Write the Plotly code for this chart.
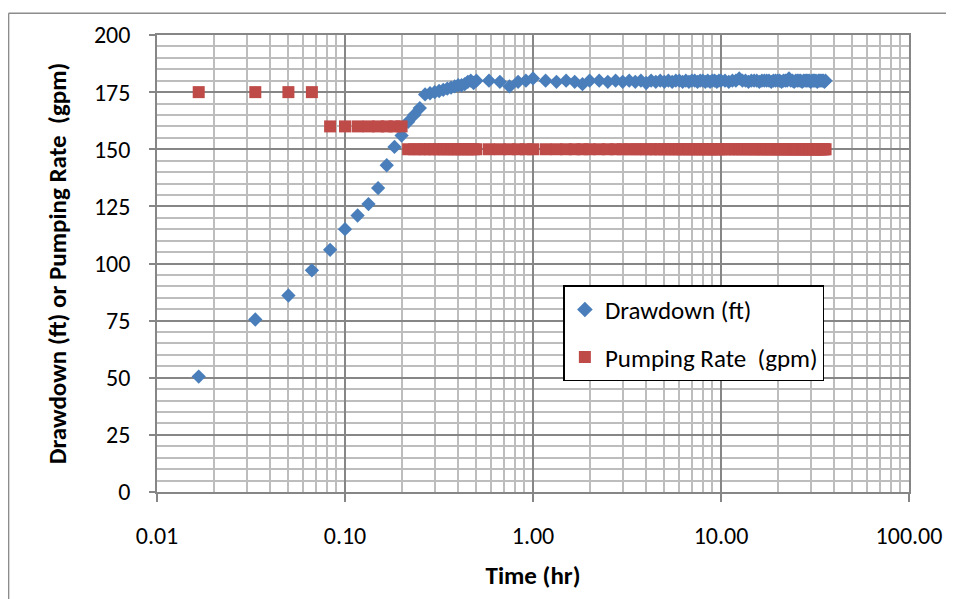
import plotly.graph_objects as go

# Elapsed time (minutes) of each reading
time_min = [
    1, 2, 3, 4, 5, 6, 7, 8, 9, 10, 11, 12, 13, 14, 15, 16, 17, 18, 19, 20,
    21, 22, 23, 24, 25, 26, 27, 28, 29, 30,
    35, 40, 45, 50, 55, 60, 70, 80, 90, 100, 110, 120,
    135, 150, 165, 180, 195, 210, 225, 240, 255, 270, 285, 300, 315, 330,
    345, 360, 375, 390, 405, 420, 435, 450, 465, 480, 495, 510, 525, 540,
    555, 570, 585, 600,
    630, 660, 690, 720, 750, 780, 810, 840, 870, 900, 930, 960, 990, 1020,
    1050, 1080, 1110, 1140, 1170, 1200, 1230, 1260, 1290, 1320, 1350, 1380,
    1410, 1440, 1470, 1500, 1530, 1560, 1590, 1620, 1650, 1680, 1710, 1740,
    1770, 1800, 1830, 1860, 1890, 1920, 1950, 1980, 2010, 2040, 2070, 2100,
    2130, 2160,
]

drawdown_ft = [
    50.5, 75.5, 86, 97, 106, 115, 121, 126, 133, 143, 151, 156, 162, 165, 168,
    174, 174.5, 175, 175.5, 176, 176.5, 177, 177.5, 178, 178, 178.5, 179.5,
    180, 179, 180,
    180, 179.5, 177.5, 179.5, 180, 181, 180, 179.5, 180, 179.5, 178.5, 180,
    180, 179.5, 180, 179.5, 180, 179.5, 180, 179, 180, 179.5, 180, 179.5,
    180, 179.5, 180, 180, 179.5, 180, 179.5, 180, 180, 179.5, 180, 180,
    179.5, 180, 179.5, 180, 180, 179.5, 180, 180,
    180, 179.5, 180, 180, 181, 180, 180, 179.5, 180, 180, 180, 179.5, 180,
    180, 180, 180, 179.5, 180, 180, 180, 180, 179.5, 180, 180, 180, 181,
    180, 180, 179.5, 180, 180, 180, 180, 179.5, 180, 180, 180, 180, 180,
    179.5, 180, 180, 180, 180, 179.5, 180, 180, 180, 180, 180, 179.5, 180,
]

pumping_gpm = [
    175, 175, 175, 175, 160, 160, 160, 160, 160, 160, 160, 160, 150, 150, 150,
    150, 150, 150, 150, 150, 150, 150, 150, 150, 150, 150, 150, 150, 150, 150,
    150, 150, 150, 150, 150, 150, 150, 150, 150, 150, 150, 150,
    150, 150, 150, 150, 150, 150, 150, 150, 150, 150, 150, 150, 150, 150,
    150, 150, 150, 150, 150, 150, 150, 150, 150, 150, 150, 150, 150, 150,
    150, 150, 150, 150,
    150, 150, 150, 150, 150, 150, 150, 150, 150, 150, 150, 150, 150, 150,
    150, 150, 150, 150, 150, 150, 150, 150, 150, 150, 150, 150, 150, 150,
    150, 150, 150, 150, 150, 150, 150, 150, 150, 150, 150, 150, 150, 150,
    150, 150, 150, 150, 150, 150, 150, 150, 150, 150,
]

x_tick_vals = [0.01, 0.1, 1, 10, 100]
x_tick_text = ["0.01", "0.10", "1.00", "10.00", "100.00"]
y_tick_vals = [0, 25, 50, 75, 100, 125, 150, 175, 200]

time_hr = [m / 60 for m in time_min]

FONT = "Carlito, Lato, 'Open Sans', sans-serif"

fig = go.Figure()
fig.add_trace(go.Scatter(
    x=time_hr, y=drawdown_ft, mode="markers", name="Drawdown (ft)",
    legendgroup="a",
    marker=dict(symbol="diamond", size=11, color="#4A7EBB"),
))
fig.add_trace(go.Scatter(
    x=time_hr, y=pumping_gpm, mode="markers", name="Pumping Rate  (gpm)",
    legendgroup="b",
    marker=dict(symbol="square", size=12, color="#BE4B48"),
))

# page body has an 8px margin, so the figure starts at (8, 8) on screen
OFF = 8
W, H = 954 - OFF, 599 - OFF
PL, PR, PT, PB = 157, 912, 30, 492  # plot area on screen
L, R, T, B = PL - OFF, 954 - PR, PT - OFF, 599 - PB
pw, ph = PR - PL, PB - PT


def px(xs):
    return (xs - PL) / pw


def py(ys):
    return (PB - ys) / ph


fig.update_layout(
    width=W, height=H,
    margin=dict(l=L, r=R, t=T, b=B, pad=0),
    paper_bgcolor="white", plot_bgcolor="white",
    font=dict(family=FONT, size=24, color="#000000"),
    showlegend=True,
    legend=dict(
        x=px(565), y=py(283), xanchor="left", yanchor="top",
        bgcolor="white", bordercolor="#000000", borderwidth=1.5,
        font=dict(family=FONT, size=25, color="#000000"),
        tracegroupgap=12, itemsizing="constant",
    ),
    shapes=[
        dict(type="line", xref="paper", yref="paper",
             x0=px(8), x1=px(960), y0=py(8), y1=py(8),
             line=dict(color="#8C8C8C", width=1.5)),
        dict(type="line", xref="paper", yref="paper",
             x0=px(8), x1=px(8), y0=py(8), y1=py(610),
             line=dict(color="#8C8C8C", width=1.5)),
    ],
)

fig.update_xaxes(
    type="log", range=[-2, 2],
    tickvals=x_tick_vals, ticktext=x_tick_text,
    ticks="outside", ticklen=8, tickwidth=1.5, tickcolor="#868686",
    ticklabelstandoff=13,
    showline=True, linecolor="#868686", linewidth=1.5, mirror=True,
    showgrid=True, gridcolor="#868686", gridwidth=1.5,
    minor=dict(dtick="D1", showgrid=True, gridcolor="#BDBDBD", gridwidth=1.5,
               ticks=""),
    tickfont=dict(size=24),
    title=dict(text="<b>Time (hr)</b>", font=dict(size=25), standoff=18),
    zeroline=False,
)
fig.update_yaxes(
    range=[0, 200], tickvals=y_tick_vals,
    ticks="outside", ticklen=6, tickwidth=1.5, tickcolor="#868686",
    ticklabelstandoff=14,
    showline=True, linecolor="#868686", linewidth=1.5, mirror=True,
    showgrid=True, gridcolor="#868686", gridwidth=1.5,
    minor=dict(dtick=5, showgrid=True, gridcolor="#BDBDBD", gridwidth=1.5,
               ticks=""),
    tickfont=dict(size=24),
    title=dict(text="<b>Drawdown (ft) or Pumping Rate  (gpm)</b>",
               font=dict(size=25), standoff=20),
    zeroline=False,
)

fig.write_html("out.html")
